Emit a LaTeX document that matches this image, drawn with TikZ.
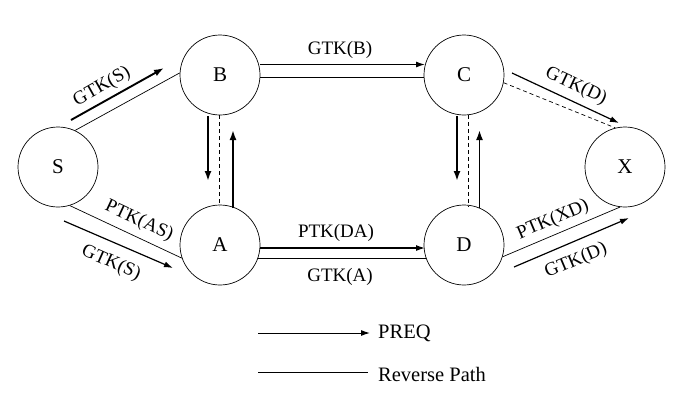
\documentclass[tikz,border=0pt]{standalone}
\usepackage{fontspec}
\setmainfont{Liberation Serif}
\usetikzlibrary{arrows.meta}
\begin{document}
\begin{tikzpicture}[x=1pt,y=-1pt,
  station/.style={circle,draw,line width=0.7pt,minimum size=80pt,inner sep=0pt,font=\fontsize{21}{24}\selectfont},
  thinline/.style={line width=0.7pt},
  dashline/.style={line width=0.7pt,dash pattern=on 4pt off 3pt},
  medarrow/.style={line width=1.2pt,-{Latex[length=9pt,width=6pt]}},
  thickarrow/.style={line width=1.9pt,-{Latex[length=10pt,width=7pt]}},
  lbl/.style={font=\fontsize{19}{22}\selectfont,inner sep=0pt},
  leg/.style={font=\fontsize{20.5}{24}\selectfont,inner sep=0pt,anchor=west}]
\useasboundingbox (0,0) rectangle (685,413);
\node[station] (S) at (58,167) {S};
\node[station] (B) at (220,75) {B};
\node[station] (A) at (220,245) {A};
\node[station] (C) at (464,75) {C};
\node[station] (D) at (464,245) {D};
\node[station] (X) at (625,167) {X};
% S-B
\draw[thinline] (S.65) -- (B.177);
\coordinate (sb1) at (71,120); \coordinate (sb2) at (164,68);
\draw[thickarrow] (sb1) -- (sb2);
\node[lbl,rotate=29.5] (lsb) at (102,87) {GTK(S)};
% S-A
\draw[thinline] (S.287) -- (A.199);
\coordinate (sa1) at (64,221); \coordinate (sa2) at (173,268);
\draw[medarrow] (sa1) -- (sa2);
\node[lbl,rotate=-25] (lsa1) at (139,221) {PTK(AS)};
\node[lbl,rotate=-24] (lsa2) at (111,263) {GTK(S)};
% B-A vertical
\coordinate (ba1) at (208,116); \coordinate (ba2) at (208,181);
\draw[thickarrow] (ba1) -- (ba2);
\coordinate (bd1) at (219.5,115); \coordinate (bd2) at (219.5,206);
\draw[dashline] (bd1) -- (bd2);
\coordinate (ab1) at (233,208); \coordinate (ab2) at (233,130);
\draw[thickarrow] (ab1) -- (ab2);
% B-C
\coordinate (bc1) at (260,64.5); \coordinate (bc2) at (425,64.5);
\draw[medarrow] (bc1) -- (bc2);
\draw[thinline] (B.-4) -- (C.184);
\node[lbl] (lbc) at (340,50) {GTK(B)};
% A-D
\coordinate (ad1) at (260,248); \coordinate (ad2) at (425,248);
\draw[medarrow] (ad1) -- (ad2);
\draw[thinline] (A.-19) -- (D.199);
\node[lbl] (lad1) at (336,233) {PTK(DA)};
\node[lbl] (lad2) at (340,277) {GTK(A)};
% C-D vertical
\coordinate (cd1) at (457,116); \coordinate (cd2) at (457,181);
\draw[thickarrow] (cd1) -- (cd2);
\coordinate (cdd1) at (468,115); \coordinate (cdd2) at (468,207);
\draw[dashline] (cdd1) -- (cdd2);
\coordinate (dc1) at (479.5,208); \coordinate (dc2) at (479.5,130);
\draw[thickarrow] (dc1) -- (dc2);
% C-X
\draw[dashline] (C.-11) -- (X.104);
\coordinate (cx1) at (512,73); \coordinate (cx2) at (619,123);
\draw[medarrow] (cx1) -- (cx2);
\node[lbl,rotate=-25] (lcx) at (576,86) {GTK(D)};
% D-X
\draw[thinline] (D.-17) -- (X.263);
\coordinate (dx1) at (514,267); \coordinate (dx2) at (629,218);
\draw[medarrow] (dx1) -- (dx2);
\node[lbl,rotate=23] (ldx1) at (553,220) {PTK(XD)};
\node[lbl,rotate=23] (ldx2) at (576,261) {GTK(D)};
% legend
\coordinate (l1a) at (258,333); \coordinate (l1b) at (370,333);
\draw[medarrow,line width=1pt] (l1a) -- (l1b);
\node[leg] (preq) at (378,333) {PREQ};
\coordinate (l2a) at (258,372); \coordinate (l2b) at (368,372);
\draw[line width=1pt] (l2a) -- (l2b);
\node[leg] (rev) at (378,374) {Reverse Path};
\end{tikzpicture}
\end{document}
